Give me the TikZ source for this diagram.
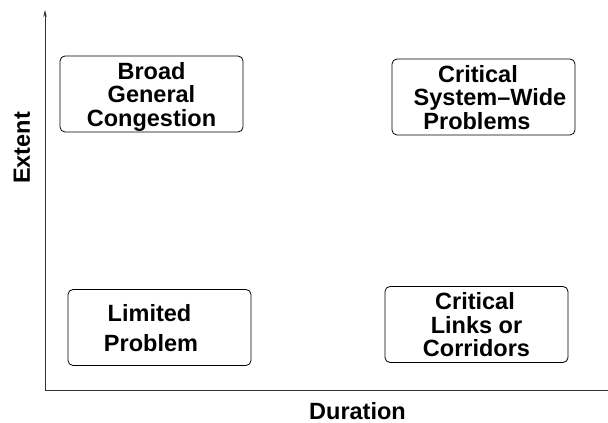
\documentclass[tikz,border=0pt]{standalone}
\usepackage{fontspec}
\setmainfont{Liberation Sans}
\usetikzlibrary{arrows.meta}
\begin{document}
\begin{tikzpicture}[x=1pt,y=1pt,
  axis/.style={line width=0.9pt,draw=black!80},
  quad/.style={draw,line width=0.8pt,rounded corners=5pt,minimum width=183pt,
    minimum height=76pt,inner sep=0pt,align=center,text depth=0pt,
    font=\bfseries\fontsize{23.5}{23.5}\selectfont},
  lab/.style={font=\bfseries\fontsize{23.5}{24}\selectfont,inner sep=0pt}]
\useasboundingbox (0,0) rectangle (608,423);
\coordinate (o) at (45,33);
\coordinate (ytop) at (45,413);
\coordinate (xend) at (608,33);
\draw[axis,-{Stealth[length=7pt,width=3.5pt]}] (o) -- (ytop);
\draw[axis] (o) -- (xend);
\node[quad] (broad) at (151.5,329) {Broad\\General\\Congestion};
\node[quad] (crit) at (483.5,326) {Critical\hspace*{11pt}\\\hspace*{13pt}System–Wide\\Problems\hspace*{13pt}};
\node[quad,font=\bfseries\fontsize{23.5}{30}\selectfont] (lim) at (159.5,95.5) {Limited\hspace*{20pt}\\Problem\hspace*{17pt}};
\node[quad] (links) at (476.5,98.5) {Critical\hspace*{3pt}\\Links or\\Corridors};
\node[lab,rotate=90] (extent) at (22,275) {Extent};
\node[lab] (duration) at (357.5,12) {Duration};
\end{tikzpicture}
\end{document}
